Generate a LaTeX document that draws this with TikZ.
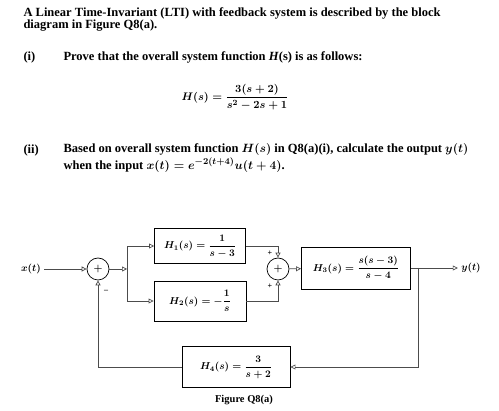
\documentclass[tikz,border=0pt]{standalone}
\usepackage{fontspec}
\usepackage{amsmath}
\setmainfont{Liberation Serif}
\usetikzlibrary{arrows.meta}

\begin{document}
\begin{tikzpicture}[
		x=1pt, y=-1pt, font=\bfseries\boldmath,
		txt/.style={anchor=west, font=\fontsize{12.5}{13}\selectfont\bfseries\boldmath},
		arr/.style={-{Triangle[open,length=5pt,width=5pt]}, draw=black!70, line width=0.7pt},
		block/.style={draw, line width=0.9pt, inner sep=2pt},
		sum/.style={circle, draw, line width=0.7pt, minimum size=22pt, inner sep=0pt},
		sign/.style={font=\footnotesize\bfseries, inner sep=0pt}
	]
	\useasboundingbox (0,0) rectangle (499,411);

	\node[txt] (intro1) at (20,13) {A Linear Time-Invariant (LTI) with feedback system is described by the block};
	\node[txt] (intro2) at (20,26) {diagram in Figure Q8(a).};
	\node[txt] (qi) at (20,57) {(i)};
	\node[txt] (qitext) at (60,57) {Prove that the overall system function \textit{H}(s) is as follows:};
	\node[font=\fontsize{11}{13}\selectfont\bfseries\boldmath] (hs) at (235,97) {$H(s) = \dfrac{3(s+2)}{s^2-2s+1}$};
	\node[txt] (qii) at (20,150) {(ii)};
	\node[txt] (qiitext) at (60,150) {Based on overall system function $H(s)$ in Q8(a)(i), calculate the output $y(t)$};
	\node[txt] (qiitext2) at (60,165) {when the input $x(t)=e^{-2(t+4)}u(t+4)$.};

	\node (x) at (31,269) {$x(t)$};
	\node[sum] (s1) at (98,269) {$+$};
	\coordinate (j1) at (127,269);
	\node[block, minimum width=91pt, minimum height=35pt] (h1) at (200,246) {$H_1(s) = \dfrac{1}{s-3}$};
	\node[block, minimum width=92pt, minimum height=40pt] (h2) at (200,301) {$H_2(s) = -\dfrac{1}{s}$};
	\node[sum] (s2) at (278,269) {$+$};
	\node[block, minimum width=109pt, minimum height=42pt] (h3) at (356,268) {$H_3(s) = \dfrac{s(s-3)}{s-4}$};
	\coordinate (j2) at (418,268);
	\node (y) at (471,268) {$y(t)$};
	\node[block, minimum width=108pt, minimum height=41pt] (h4) at (236,367) {$H_4(s) = \dfrac{3}{s+2}$};
	\node[font=\fontsize{10.5}{12}\selectfont\bfseries] (caption) at (244,400) {Figure Q8(a)};

	\draw[arr] (x) -- (s1);
	\draw[arr] (s1) -- (j1);
	\draw[arr] (j1) |- (h1.west);
	\draw[arr] (j1) |- (h2.west);
	\draw[arr] (h1.east) -| (s2.north);
	\draw[arr] (h2.east) -| (s2.south);
	\draw[arr] (s2) -- (h3);
	\draw[arr] (h3.east) -- (y);
	\draw[arr] (j2) |- (h4.east);
	\draw[arr] (h4.west) -| (s1.south);

	\node[sign] (p1) at (270,253) {+};
	\node[sign] (p2) at (270,286) {+};
	\node[sign] (m1) at (106,291) {--};
\end{tikzpicture}
\end{document}
